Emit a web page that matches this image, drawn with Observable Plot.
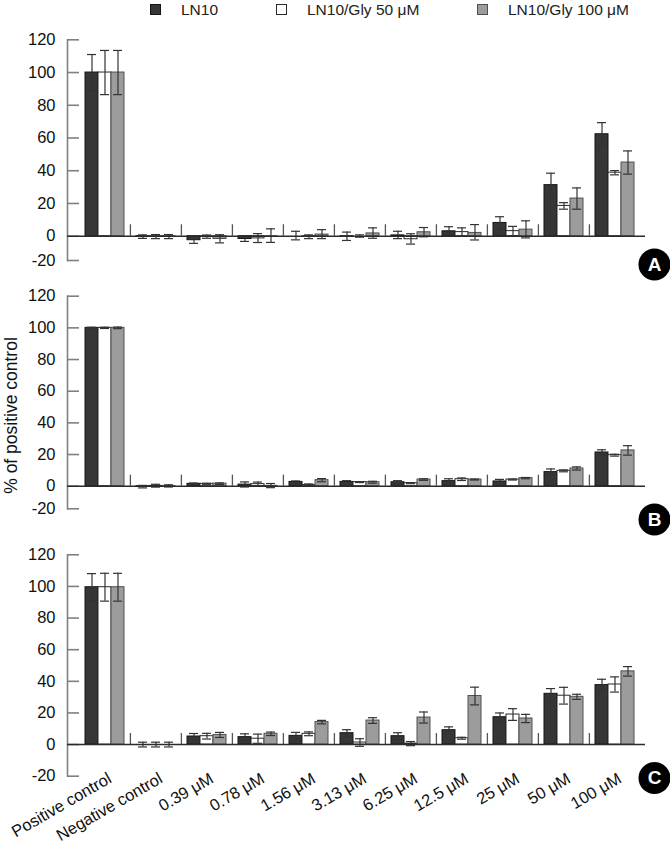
<!DOCTYPE html>
<html>
<head>
<meta charset="utf-8">
<script src="https://cdn.jsdelivr.net/npm/d3@7"></script>
<script src="https://cdn.jsdelivr.net/npm/@observablehq/plot@0.6"></script>
<style>
  body { margin: 0; background: #fff; font-family: "Liberation Sans", Arial, sans-serif; }
  #wrap { position: relative; width: 670px; height: 847px; overflow: hidden; }
  #wrap svg { position: absolute; left: 0; overflow: visible; }
  .leg { position: absolute; top: 0; height: 20px; font-size: 15.5px; color: #222; white-space: nowrap; }
  .leg .sw { position: absolute; top: 4px; width: 11px; height: 11px; box-sizing: border-box; }
  .leg .tx { position: absolute; top: 1px; line-height: 17px; }
</style>
</head>
<body>
<div id="wrap"></div>
<script>
const categories = ["Positive control","Negative control","0.39 μM","0.78 μM","1.56 μM","3.13 μM","6.25 μM","12.5 μM","25 μM","50 μM","100 μM"];
const series = ["LN10", "LN10/Gly 50 μM", "LN10/Gly 100 μM"];
const yTicks = [-20, 0, 20, 40, 60, 80, 100, 120];
const badges = ["A", "B", "C"];
const yLabel = "% of positive control";

// Panel A
const aLN10      = [100, -0.5, -3.3, -2.3, 0, -0.5, 0.5, 3, 8.1, 31.2, 62.3];
const aLN10Err   = [11, 1.3, 2.6, 2, 3, 3, 2.5, 2.8, 3.8, 7.3, 7.1];
const aGly50     = [100, -0.5, -0.5, -1.8, -0.6, 0, -2.5, 2.5, 3.1, 18.5, 38.8];
const aGly50Err  = [13.5, 1.5, 1.2, 3.4, 1.4, 0.8, 4, 2.6, 2.9, 2, 1.3];
const aGly100    = [100, -0.5, -2.3, -0.3, 1, 1.7, 2.4, 2, 4, 23, 45];
const aGly100Err = [13.5, 1.5, 3.2, 4.8, 3, 3.4, 2.9, 5.1, 5.4, 6.5, 7.1];

// Panel B
const bLN10      = [100, -0.5, 1.5, 1, 2.7, 2.7, 2.5, 3.2, 3, 8.9, 21.3];
const bLN10Err   = [0.4, 1, 0.5, 1.7, 0.6, 0.8, 1, 1.5, 1.3, 2, 1.7];
const bGly50     = [100, 0.2, 1.5, 1.3, 0.8, 2.6, 1.9, 4.4, 4.2, 9.7, 19.6];
const bGly50Err  = [0.4, 1, 0.3, 1.3, 0.6, 0.3, 0.3, 0.8, 0.3, 0.6, 0.6];
const bGly100    = [100, 0.1, 1.6, 0.2, 3.8, 2.5, 4.2, 4.2, 5.1, 11.2, 22.6];
const bGly100Err = [0.5, 0.8, 0.5, 1.5, 1, 0.6, 0.5, 0.3, 0.4, 1, 3];

// Panel C
const cLN10      = [99.5, 0, 5.1, 4.7, 5.5, 7.2, 5.3, 9.1, 17.3, 32.1, 37.6];
const cLN10Err   = [8.6, 1.5, 1.9, 2.1, 2.2, 2.2, 2.2, 2.1, 2.7, 3.3, 3.7];
const cGly50     = [99.5, 0, 5.3, 3.7, 6.8, 1.3, 0.6, 4, 19, 30.9, 38];
const cGly50Err  = [8.8, 1.5, 1.8, 2.9, 1.2, 2.4, 1.3, 0.6, 3.7, 5.3, 4.8];
const cGly100    = [99.5, 0, 6.1, 6.8, 14.2, 15.2, 17.1, 30.7, 16.5, 30.2, 46.3];
const cGly100Err = [8.8, 1.5, 1.6, 1.1, 1.1, 1.8, 3.5, 5.6, 2.6, 1.6, 3];

const fills   = ["#363636", "#ffffff", "#9c9c9c"];
const strokes = ["#151515", "#2a2a2a", "#505050"];
const FONT = '"Liberation Sans", Arial, sans-serif';

const wrap = document.getElementById("wrap");

// Legend
const legLeft = [150, 276, 477];
series.forEach((s, i) => {
  const d = document.createElement("div");
  d.className = "leg";
  d.style.left = legLeft[i] + "px";
  d.innerHTML = `<span class="sw" style="left:0;background:${fills[i]};border:1px solid ${strokes[i]}"></span><span class="tx" style="left:31px">${s}</span>`;
  wrap.appendChild(d);
});

function panel(cfg) {
  const W = 670, mL = 67, mR = 25;
  const frameW = W - mL - mR;
  const rows = cfg.means.map((m, s) => categories.map((c, i) => ({cat: c, v: m[i], e: cfg.errs[s][i], s})));
  const bw = 13, half = 19.5, capHalf = 4.5;
  const marks = [
    Plot.ruleY(yTicks, {y: d => d, insetRight: frameW - 12, stroke: "#808080", strokeWidth: 1.6}),
    Plot.frame({anchor: "left", stroke: "#808080", strokeWidth: 1.6}),
    Plot.axisY({ticks: yTicks, tickSize: 0, tickPadding: 12, fontSize: 16.5, fill: "#111", label: null, tickFormat: d => String(d)}),
  ];
  rows.forEach((r, s) => {
    marks.push(Plot.barY(r, {x: "cat", y: "v", fill: fills[s], stroke: strokes[s], strokeWidth: 1,
      insetLeft: s * bw, insetRight: (2 - s) * bw}));
  });
  rows.forEach((r, s) => {
    const c = (s - 1) * bw;
    marks.push(Plot.ruleX(r, {x: "cat", y1: d => d.v - d.e, y2: d => d.v + d.e, dx: c, stroke: "#333", strokeWidth: 1.2}));
    marks.push(Plot.tickY(r, {x: "cat", y: d => d.v + d.e, insetLeft: half + c - capHalf, insetRight: half - c - capHalf, stroke: "#333", strokeWidth: 1.2}));
    marks.push(Plot.tickY(r, {x: "cat", y: d => d.v - d.e, insetLeft: half + c - capHalf, insetRight: half - c - capHalf, stroke: "#333", strokeWidth: 1.2}));
  });
  marks.push(Plot.ruleX(categories.slice(1), {x: d => d, y1: 0, y2: 7, dx: -25.6, stroke: "#555", strokeWidth: 1.3}));
  marks.push(Plot.ruleY([0], {stroke: "#2a2a2a", strokeWidth: 1.6}));
  marks.push(Plot.dot([cfg.badge], {frameAnchor: "bottom-right", dx: 9, dy: cfg.badgeDy, r: 16, fill: "#000", stroke: "none"}));
  marks.push(Plot.text([cfg.badge], {frameAnchor: "bottom-right", dx: 9, dy: cfg.badgeDy, text: d => d, textAnchor: "middle", lineAnchor: "middle", fill: "#fff", fontWeight: "bold", fontSize: 19}));
  if (cfg.showX) {
    marks.push(Plot.axisX({tickSize: 0, tickPadding: 1, tickRotate: -30, fontSize: 16.5, fill: "#111", dx: 5, label: null}));
  }
  if (cfg.yLabel) {
    marks.push(Plot.text([cfg.yLabel], {frameAnchor: "left", dx: -56, dy: cfg.yLabelDy, rotate: -90, textAnchor: "middle", lineAnchor: "middle", text: d => d, fontSize: 17.5, fill: "#111"}));
  }
  const svg = Plot.plot({
    width: W,
    height: cfg.height,
    marginLeft: mL,
    marginRight: mR,
    marginTop: cfg.marginTop,
    marginBottom: cfg.marginBottom,
    style: {fontFamily: FONT, background: "transparent", overflow: "visible"},
    x: {type: "band", domain: categories, range: [78.2, 641.6], paddingInner: 0.238, paddingOuter: 0.119, axis: null},
    y: {type: "linear", domain: cfg.yDomain, range: cfg.yRange, axis: null},
    marks
  });
  svg.style.top = cfg.top + "px";
  wrap.appendChild(svg);
}

panel({top: 24, height: 261, marginTop: 15.3, marginBottom: 25,
  yDomain: [-20, 0, 120], yRange: [236, 211.7, 15.3],
  means: [aLN10, aGly50, aGly100], errs: [aLN10Err, aGly50Err, aGly100Err],
  badge: badges[0], badgeDy: 4});

panel({top: 280, height: 261, marginTop: 15.7, marginBottom: 32.7,
  yDomain: [-20, 0, 120], yRange: [228.3, 205.7, 15.7],
  means: [bLN10, bGly50, bGly100], errs: [bLN10Err, bGly50Err, bGly100Err],
  badge: badges[1], badgeDy: 10.7, yLabel: yLabel, yLabelDy: 13});

panel({top: 538, height: 309, marginTop: 16.3, marginBottom: 71.3,
  yDomain: [-20, 120], yRange: [237.7, 16.3],
  means: [cLN10, cGly50, cGly100], errs: [cLN10Err, cGly50Err, cGly100Err],
  badge: badges[2], badgeDy: 1.8, showX: true});
</script>
</body>
</html>
